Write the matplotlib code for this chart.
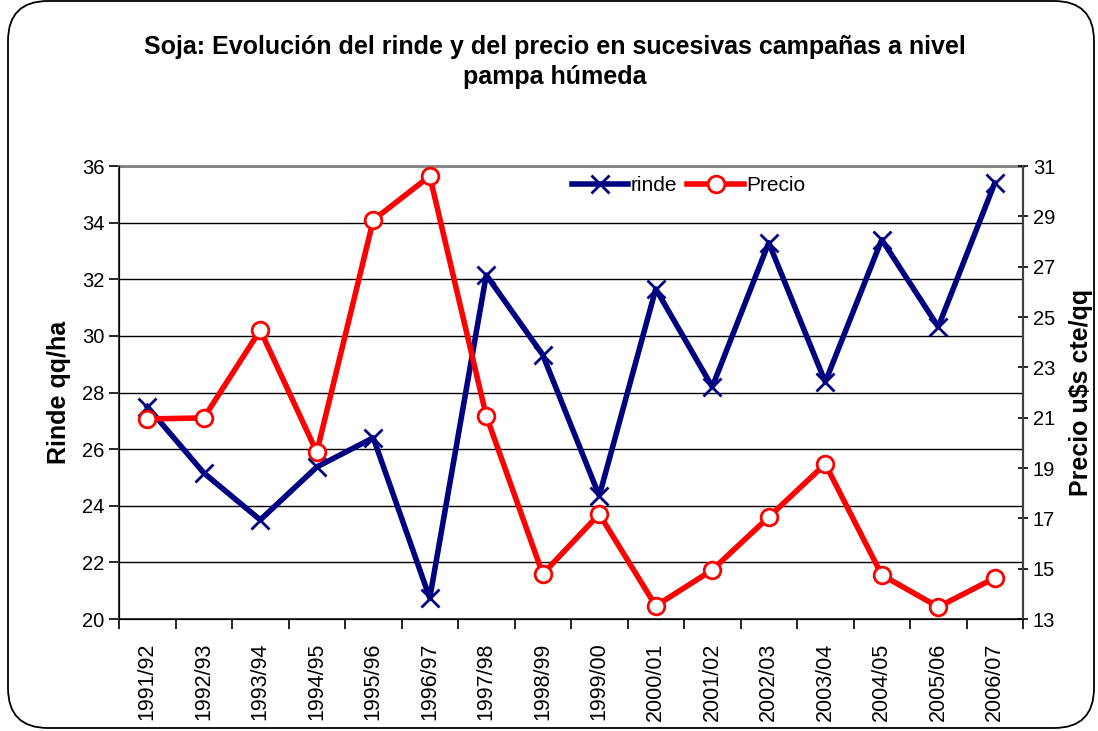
import matplotlib
matplotlib.use("Agg")
import matplotlib.pyplot as plt
from matplotlib.patches import FancyBboxPatch

plt.rcParams['font.family'] = ['Liberation Sans', 'DejaVu Sans']

campanas = ["1991/92", "1992/93", "1993/94", "1994/95", "1995/96", "1996/97", "1997/98",
            "1998/99", "1999/00", "2000/01", "2001/02", "2002/03", "2003/04", "2004/05",
            "2005/06", "2006/07"]
rinde = [27.5, 25.16, 23.5, 25.37, 26.4, 20.74, 32.15, 29.33, 24.35, 31.66, 28.2, 33.29,
         28.37, 33.4, 30.32, 35.4]
precio = [20.95, 20.99, 24.48, 19.63, 28.85, 30.6, 21.07, 14.79, 17.17, 13.52, 14.95, 17.05,
          19.16, 14.75, 13.48, 14.63]

W, H = 1098, 731
fig = plt.figure(figsize=(W / 100, H / 100), dpi=100)
# rounded outer frame (pixel based)
x0, y0, x1, y1 = 8, 1, 1094, 728
fig.patches.append(FancyBboxPatch((x0 / W, (H - y1) / H), (x1 - x0) / W, (y1 - y0) / H,
                                  boxstyle="round,pad=0,rounding_size=%f" % (40 / W),
                                  mutation_aspect=W / H,
                                  transform=fig.transFigure, fill=False, edgecolor='black',
                                  linewidth=1.3))
ax = fig.add_axes([0.1084, 0.1532, 0.8233, 0.6197])
x = list(range(len(campanas)))
ax.set_xlim(-0.5, len(campanas) - 0.5)
ax.set_ylim(20, 36)
ax.set_yticks(range(20, 37, 2))
ax.grid(axis='y', color='black', linewidth=1.0)
ax.set_axisbelow(True)
l1, = ax.plot(x, rinde, color='#000080', linewidth=4, marker='x', markersize=13,
              markeredgewidth=2, label='rinde', zorder=3)
ax.set_xticks(x)
ax.set_xticklabels(campanas, rotation=90, fontsize=15.5)
ax.set_xticks([i - 0.5 for i in range(len(campanas) + 1)], minor=True)
ax.tick_params(axis='x', which='major', length=0, pad=17)
ax.tick_params(axis='x', which='minor', length=7, width=1.2)
ax.tick_params(axis='y', labelsize=14.5, length=7, width=1.2, direction='out')
ax.set_ylabel('Rinde qq/ha', fontsize=18, fontweight='bold', labelpad=8)
for s in ['left', 'bottom', 'right']:
    ax.spines[s].set_linewidth(1.5)
    ax.spines[s].set_color('#404040')
ax.spines['top'].set_color('#808080')
ax.spines['top'].set_linewidth(2)

ax2 = ax.twinx()
ax2.set_ylim(13, 31)
ax2.set_yticks(range(13, 32, 2))
l2, = ax2.plot(x, precio, color='#ff0000', linewidth=4, marker='o', markersize=12,
               markerfacecolor='white', markeredgecolor='#ff0000', markeredgewidth=2,
               label='Precio', zorder=3)
ax2.tick_params(axis='y', labelsize=14.5, length=7, width=1.2, direction='inout')
ax2.set_ylabel('Precio u$s cte/qq', fontsize=18, fontweight='bold', labelpad=10)
ax2.spines['right'].set_linewidth(1.5)
ax2.spines['right'].set_color('#404040')
ax2.spines['top'].set_visible(False)

ax2.legend(handles=[l1, l2], loc='center', bbox_to_anchor=(0.63, 0.956), ncol=2,
           frameon=False, fontsize=15, handlelength=2.7, handletextpad=0.1,
           columnspacing=0.5, borderpad=0)

fig.text(0.505, 1 - 62 / H, 'Soja: Evolución del rinde y del precio en sucesivas campañas a nivel\npampa húmeda',
         ha='center', va='center', fontsize=18, fontweight='bold', linespacing=1.35)

fig.savefig('out.png', dpi=100)
